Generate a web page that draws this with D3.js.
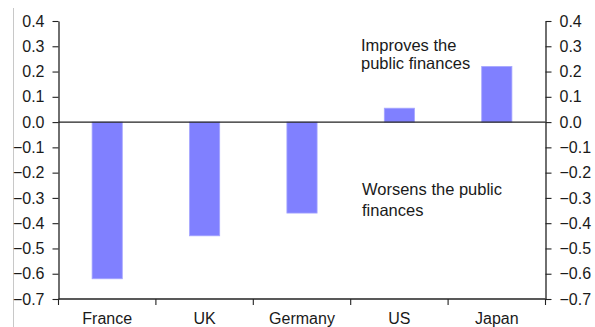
<!DOCTYPE html>
<html>
<head>
<meta charset="utf-8">
<script src="https://cdn.jsdelivr.net/npm/d3@7"></script>
<style>
  html, body { margin: 0; padding: 0; background: #fff; }
  svg { display: block; font-family: "Liberation Sans", Arial, sans-serif; }
</style>
</head>
<body>
<div id="chart"></div>
<script>
const W = 595, H = 327;

const countries = ['France', 'UK', 'Germany', 'US', 'Japan'];
const values    = [-0.62, -0.45, -0.36, 0.055, 0.22];
const yTicks    = [0.4, 0.3, 0.2, 0.1, 0.0, -0.1, -0.2, -0.3, -0.4, -0.5, -0.6, -0.7];
const noteUp    = ['Improves the', 'public finances'];
const noteDown  = ['Worsens the public', 'finances'];

const X0 = 58.5, X1 = 545.5;
const Y_TOP = 21, Y_BOT = 299;
const BAR_C = '#8080ff';
const AXIS_C = '#222';

const svg = d3.select('#chart')
  .append('svg')
  .attr('width', W)
  .attr('height', H);

const x = d3.scaleBand().domain(countries).range([X0, X1]).padding(0);
const y = d3.scaleLinear().domain([-0.7, 0.4]).range([Y_BOT, Y_TOP]);
const fmt = d3.format('.1f');

// thin grey frame line on the far left
svg.append('line')
  .attr('x1', 13.5).attr('x2', 13.5)
  .attr('y1', 8).attr('y2', H)
  .attr('stroke', '#c8c8c8').attr('stroke-width', 1);

// bars
const barW = x.bandwidth() * 0.31;
svg.append('g')
  .selectAll('rect')
  .data(values)
  .join('rect')
  .attr('x', (d, i) => x(countries[i]) + (x.bandwidth() - barW) / 2)
  .attr('y', d => y(Math.max(0, d)))
  .attr('width', barW)
  .attr('height', d => Math.abs(y(d) - y(0)))
  .attr('fill', BAR_C)
  .attr('stroke', '#a6a6ff')
  .attr('stroke-width', 0.8);

// zero line
svg.append('line')
  .attr('x1', X0).attr('x2', X1)
  .attr('y1', y(0)).attr('y2', y(0))
  .attr('stroke', AXIS_C).attr('stroke-width', 1.3);

// left and right axes
function styleAxis(g) {
  g.select('.domain').attr('stroke', AXIS_C).attr('stroke-width', 1.3);
  g.selectAll('.tick line').attr('stroke', AXIS_C).attr('stroke-width', 1.1);
  g.selectAll('.tick text').attr('fill', '#1a1a1a').attr('font-size', 16);
}

svg.append('g')
  .attr('transform', `translate(${X0},0)`)
  .call(d3.axisLeft(y).tickValues(yTicks).tickFormat(fmt).tickSize(6).tickSizeOuter(0).tickPadding(8))
  .call(g => g.attr('font-family', null))
  .call(styleAxis);

svg.append('g')
  .attr('transform', `translate(${X1},0)`)
  .call(d3.axisRight(y).tickValues(yTicks).tickFormat(fmt).tickSize(6).tickSizeOuter(0).tickPadding(8))
  .call(g => g.attr('font-family', null))
  .call(styleAxis);

// bottom axis: line, boundary ticks, centred labels
svg.append('line')
  .attr('x1', X0).attr('x2', X1)
  .attr('y1', Y_BOT).attr('y2', Y_BOT)
  .attr('stroke', AXIS_C).attr('stroke-width', 1.6);

const bounds = countries.map(c => x(c)).concat([x.range()[1]]);
svg.append('g')
  .selectAll('line')
  .data(bounds)
  .join('line')
  .attr('x1', d => d).attr('x2', d => d)
  .attr('y1', Y_BOT).attr('y2', Y_BOT + 6)
  .attr('stroke', AXIS_C).attr('stroke-width', 1.1);

svg.append('g')
  .selectAll('text')
  .data(countries)
  .join('text')
  .attr('x', d => x(d) + x.bandwidth() / 2)
  .attr('y', 324)
  .attr('text-anchor', 'middle')
  .attr('font-size', 16)
  .attr('fill', '#1a1a1a')
  .text(d => d);

// annotations
function note(lines, x0, y0, lh) {
  svg.append('g')
    .selectAll('text')
    .data(lines)
    .join('text')
    .attr('x', x0)
    .attr('y', (d, i) => y0 + i * lh)
    .attr('font-size', 16.5)
    .attr('fill', '#1a1a1a')
    .text(d => d);
}
note(noteUp, 361, 50.5, 18);
note(noteDown, 362, 194.5, 21.5);
</script>
</body>
</html>
